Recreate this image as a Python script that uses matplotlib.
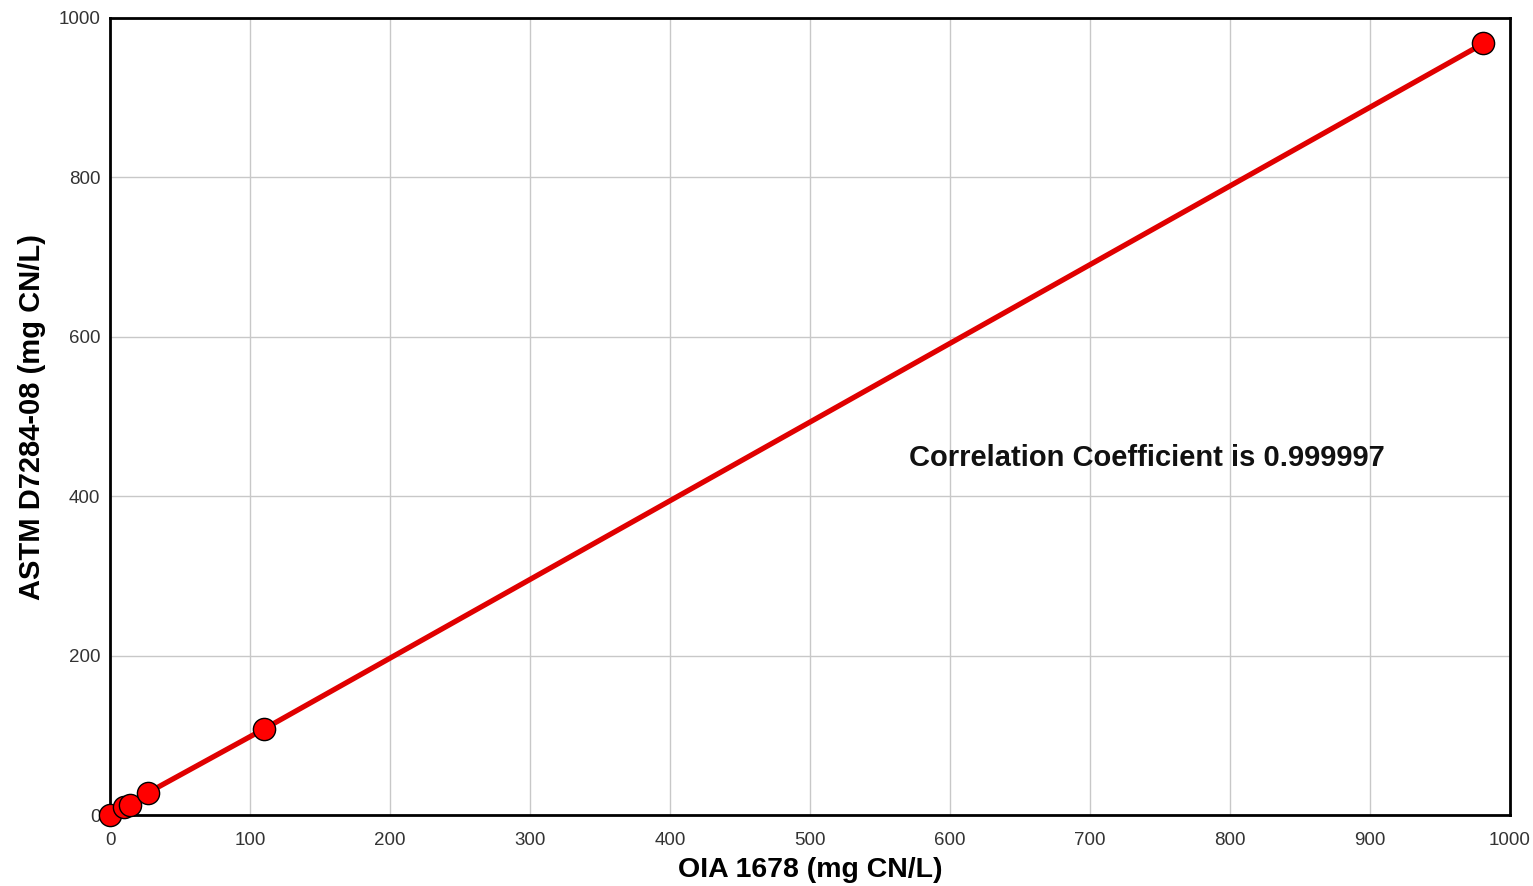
import matplotlib
matplotlib.use("Agg")
import matplotlib.pyplot as plt

oia = [0, 10, 14, 27, 110, 981]
astm = [0, 10, 13, 28, 108, 968]
xticks = list(range(0, 1001, 100))
yticks = list(range(0, 1001, 200))

plt.rcParams["font.family"] = ["Liberation Sans", "DejaVu Sans"]

fig = plt.figure(figsize=(15.33, 8.86), dpi=100)
ax = fig.add_axes([0.0718, 0.0801, 0.9132, 0.8996])

ax.plot(oia, astm, color="#e00000", lw=3.8, zorder=3)
ax.plot(oia, astm, "o", color="red", markersize=16, markeredgecolor="black",
        markeredgewidth=1, zorder=4, clip_on=False)

ax.set_xlim(0, 1000)
ax.set_ylim(0, 1000)
ax.set_xticks(xticks)
ax.set_yticks(yticks)
ax.grid(True, color="#c8c8c8", lw=1)
ax.set_axisbelow(True)
ax.tick_params(length=0, labelsize=13.5, colors="#333333")
ax.tick_params(axis="x", pad=12)
ax.tick_params(axis="y", pad=7)
for s in ax.spines.values():
    s.set_linewidth(2)
    s.set_color("black")

ax.set_xlabel("OIA 1678 (mg CN/L)", fontsize=20.5, fontweight="bold", labelpad=6)
ax.set_ylabel("ASTM D7284-08 (mg CN/L)", fontsize=21, fontweight="bold", labelpad=9)
ax.text(571, 448, "Correlation Coefficient is 0.999997", fontsize=21,
        fontweight="bold", va="center", ha="left", color="#111111")

fig.savefig("out.png", dpi=100)
